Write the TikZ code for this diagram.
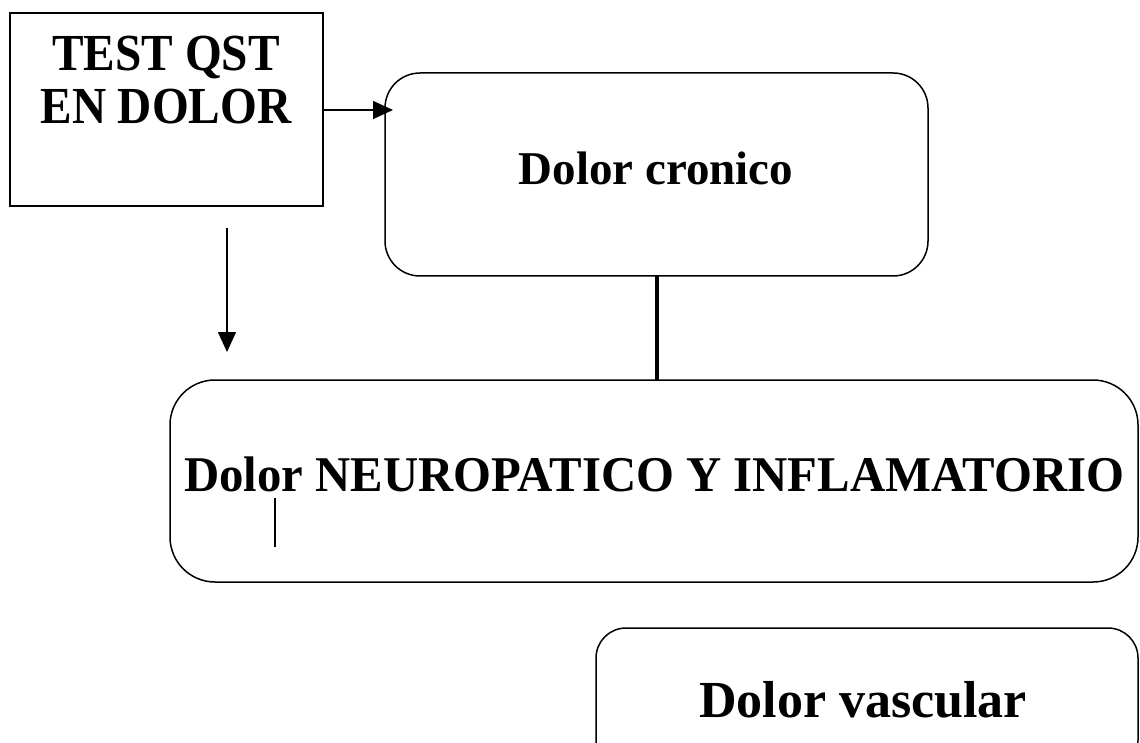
\documentclass[tikz,border=0pt]{standalone}
\usepackage{fontspec}
\setmainfont{Liberation Serif}
\newfontfamily\condfont{Liberation Serif}[FakeStretch=0.91]
\newfontfamily\neurofont{Liberation Serif}[FakeStretch=0.975]
\usetikzlibrary{arrows.meta}
\begin{document}
\begin{tikzpicture}[x=1pt,y=-1pt,
  boxstyle/.style={draw, line width=1.5pt, inner sep=0pt, outer sep=0pt},
  roundbox/.style={boxstyle, rounded corners=#1},
  lbl/.style={inner sep=0pt},
  conn/.style={line width=1.5pt, -{Triangle[length=20pt,width=18pt]}}
]
\useasboundingbox (0,0) rectangle (1140,743);
\clip (0,0) rectangle (1140,743);
% boxes
\node[boxstyle, minimum width=313pt, minimum height=193pt] (test) at (166.5,109.5) {};
\node[lbl, align=center, font=\condfont\fontsize{52}{53}\selectfont\bfseries] (testlbl) at (166,80) {TEST QST\\EN DOLOR};
\node[roundbox=35pt, minimum width=543pt, minimum height=203pt] (cron) at (656.5,174.5) {};
\node[lbl, anchor=base, font=\fontsize{47}{50}\selectfont\bfseries] (cronlbl) at (656,185) {Dolor cronico};
\node[roundbox=45pt, minimum width=968pt, minimum height=202pt] (neuro) at (654,481) {};
\node[lbl, anchor=base, font=\neurofont\fontsize{50}{52}\selectfont\bfseries] (neurolbl) at (654.5,491) {Dolor NEUROPATICO Y INFLAMATORIO};
\node[roundbox=30pt, minimum width=542pt, minimum height=142pt] (vasc) at (867,699) {};
\node[lbl, anchor=base, font=\fontsize{52}{54}\selectfont\bfseries] (vasclbl) at (863,717) {Dolor vascular};
% connectors
\draw[conn] (test.east |- 0,110) -- (393,110);
\coordinate (dstart) at (227,228);
\coordinate (dend) at (227,352);
\draw[conn] (dstart) -- (dend);
\draw[line width=4pt] (cron.south -| 657,0) -- (neuro.north -| 657,0);
\coordinate (ms) at (275,498);
\coordinate (me) at (275,547);
\draw[line width=1.2pt] (ms) -- (me);
\end{tikzpicture}
\end{document}
